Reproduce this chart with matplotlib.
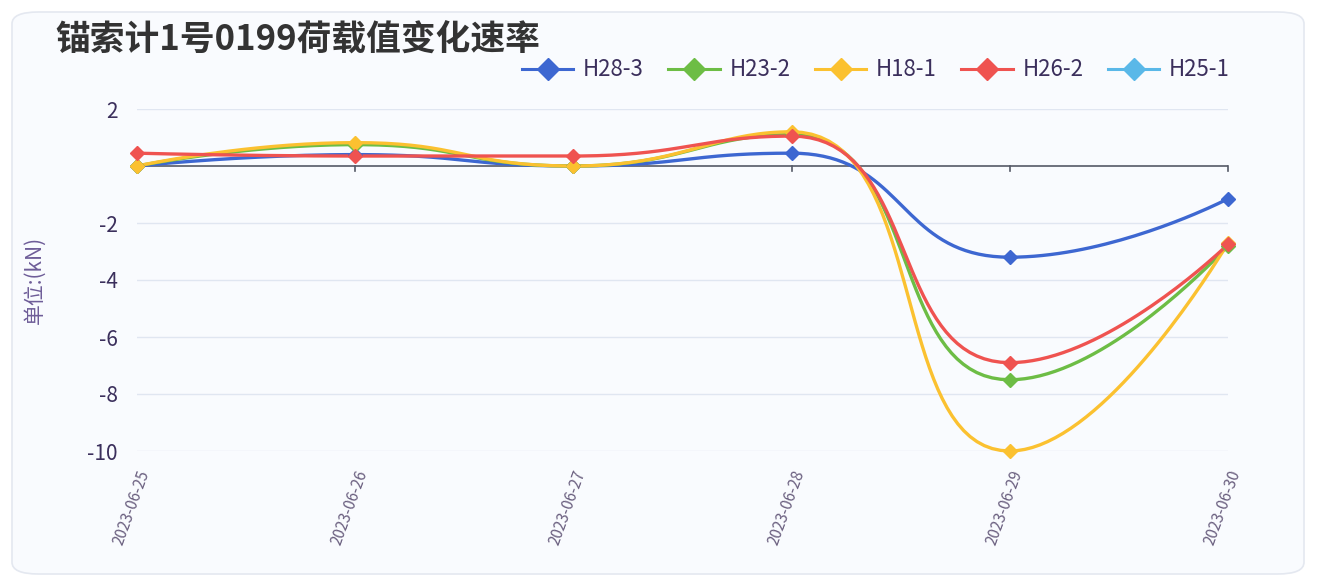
import matplotlib
matplotlib.use('Agg')
import matplotlib.pyplot as plt
import numpy as np
from matplotlib.patches import FancyBboxPatch
from matplotlib.lines import Line2D

plt.rcParams['font.family'] = ['Noto Sans CJK SC', 'DejaVu Sans']

dates = ['2023-06-25', '2023-06-26', '2023-06-27', '2023-06-28', '2023-06-29', '2023-06-30']
h28_3 = [0.0, 0.4, 0.0, 0.45, -3.2, -1.15]
h23_2 = [0.0, 0.75, 0.0, 1.1, -7.5, -2.8]
h18_1 = [0.0, 0.82, 0.0, 1.2, -10.0, -2.7]
h26_2 = [0.45, 0.35, 0.35, 1.05, -6.9, -2.75]
h25_1 = [None, None, None, None, None, None]

names = ['H28-3', 'H23-2', 'H18-1', 'H26-2', 'H25-1']
colors = ['#3d67d1', '#6dbd45', '#fbc130', '#ef5350', '#5ab8e8']
series = [h28_3, h23_2, h18_1, h26_2, h25_1]


def clamp(v, a, b):
    return max(min(v, max(a, b)), min(a, b))


def smooth_curve(xs, ys, sx, sy, smooth=0.5, n=40):
    # echarts-like smoothing with clamped control points (no overshoot)
    px = np.array(xs, float) * sx
    py = np.array(ys, float) * sy
    m = len(px)
    cin = [(px[0], py[0])] * m
    cout = [(px[i], py[i]) for i in range(m)]
    for i in range(1, m - 1):
        x, y = px[i], py[i]
        x0, y0 = px[i - 1], py[i - 1]
        x1, y1 = px[i + 1], py[i + 1]
        vx, vy = x1 - x0, y1 - y0
        l0 = np.hypot(x - x0, y - y0)
        l1 = np.hypot(x1 - x, y1 - y)
        r = l1 / (l0 + l1)
        ncx = clamp(x + vx * smooth * r, x1, x)
        ncy = clamp(y + vy * smooth * r, y1, y)
        vx, vy = ncx - x, ncy - y
        c1x = clamp(x - vx * l0 / l1, x0, x)
        c1y = clamp(y - vy * l0 / l1, y0, y)
        vx, vy = x - c1x, y - c1y
        ncx = x + vx * l1 / l0
        ncy = y + vy * l1 / l0
        cin[i] = (c1x, c1y)
        cout[i] = (ncx, ncy)
    cin[m - 1] = (px[m - 1], py[m - 1])
    t = np.linspace(0, 1, n)
    outx, outy = [], []
    for i in range(m - 1):
        p0 = (px[i], py[i]); p1 = cout[i]; p2 = cin[i + 1]; p3 = (px[i + 1], py[i + 1])
        bx = (1 - t) ** 3 * p0[0] + 3 * (1 - t) ** 2 * t * p1[0] + 3 * (1 - t) * t ** 2 * p2[0] + t ** 3 * p3[0]
        by = (1 - t) ** 3 * p0[1] + 3 * (1 - t) ** 2 * t * p1[1] + 3 * (1 - t) * t ** 2 * p2[1] + t ** 3 * p3[1]
        outx.extend(bx); outy.extend(by)
    return np.array(outx) / sx, np.array(outy) / sy


fig = plt.figure(figsize=(13.2, 5.86), dpi=100)
fig.patch.set_facecolor('#ffffff')
card = FancyBboxPatch((12 / 1320, 12 / 586), 1292 / 1320, 562 / 586,
                      boxstyle='round,pad=0,rounding_size=0.02',
                      transform=fig.transFigure, facecolor='#f9fbfe',
                      edgecolor='#e4e8f0', linewidth=1.2, zorder=-10)
fig.patches.append(card)

ax = fig.add_axes([137 / 1320, 1 - 451 / 586, (1228 - 137) / 1320, (451 - 109) / 586])
ax.set_facecolor('none')
ax.set_xlim(0, len(dates) - 1)
ax.set_ylim(-10, 2)

sx = (1228 - 137) / (len(dates) - 1)
sy = (451 - 109) / 12.0
xs = np.arange(len(dates))

for vals, c in zip(series, colors):
    if all(v is None for v in vals):
        continue
    cx, cy = smooth_curve(xs, vals, sx, sy)
    ax.plot(cx, cy, color=c, lw=2.4, zorder=3, solid_capstyle='round', clip_on=False)
    ax.plot(xs, vals, ls='none', marker='D', ms=7, color=c, zorder=4, clip_on=False)

for g in [2, -2, -4, -6, -8, -10]:
    ax.axhline(g, color='#e0e6f1', lw=1, zorder=1)
ax.axhline(0, color='#555a66', lw=1.2, zorder=2)

ax.set_yticks([2, -2, -4, -6, -8, -10])
ax.set_yticklabels(['2', '-2', '-4', '-6', '-8', '-10'])
ax.tick_params(axis='y', length=0, pad=14, labelsize=15, labelcolor='#3b2f5c')
ax.set_xticks(xs)
ax.set_xticklabels([])
ax.tick_params(axis='x', length=0)
for x in xs:
    ax.plot([x, x], [0, -0.18], color='#555a66', lw=1.2, zorder=2, clip_on=False)
    ax.text(x, -10.6, dates[x], rotation=70, ha='right', va='top', rotation_mode='anchor',
            fontsize=11, color='#6b6080')

for s in ax.spines.values():
    s.set_visible(False)

ax.set_ylabel('单位:(kN)', fontsize=15, color='#6e5d98', labelpad=30)

fig.text(55 / 1320, 1 - 40 / 586, '锚索计1号0199荷载值变化速率', fontsize=25, fontweight='bold',
         color='#333333', va='center', ha='left')

handles = [Line2D([0], [0], color=c, lw=2.2, marker='D', ms=11) for c in colors]
leg = fig.legend(handles, names, loc='center right', bbox_to_anchor=(1250 / 1320, 1 - 70 / 586),
                 ncol=5, frameon=False, fontsize=16, handlelength=2.3, columnspacing=1.1,
                 handletextpad=0.45, labelcolor='#3b2f5c')

fig.savefig('out.png', dpi=100, facecolor=fig.get_facecolor())
